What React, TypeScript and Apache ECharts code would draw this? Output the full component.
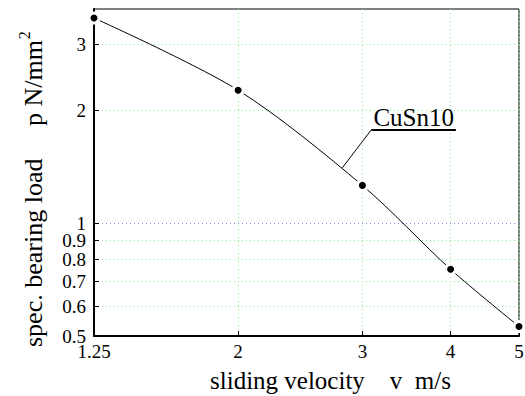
import React, { useEffect, useRef } from "react";
import * as echarts from "echarts";

const velocity = [1.25, 2, 3, 4, 5];
const load = [3.52, 2.26, 1.26, 0.753, 0.53];
const xTicks = [1.25, 2, 3, 4, 5];
const yTicks = [0.5, 0.6, 0.7, 0.8, 0.9, 1, 2, 3];
const xRange = [1.25, 5];
const yRange = [0.5, 3.72];
const xTitle = "sliding velocity    v  m/s";
const yTitle = "spec. bearing load     p N/mm";
const yTitleSup = "2";
const seriesLabel = "CuSn10";
const leaderStart = [2.81, 1.404];
const leaderCorner = [3.09, 1.774];
const underlineEnd = [4.07, 1.774];

const FAMILY = "'Liberation Serif', 'Times New Roman', Times, serif";
const font = (size: number) => `${size}px ${FAMILY}`;

export default function App() {
  const ref = useRef<HTMLDivElement>(null);
  useEffect(() => {
    document.body.style.margin = "0";
    if (!ref.current) return;
    const chart = echarts.init(ref.current, null, { renderer: "svg" });
    const green = "#88ee88";
    const blue = "#8888ee";
    chart.setOption({
      animation: false,
      grid: { left: 94, right: 6, top: 9, bottom: 60, show: true, borderColor: "#000", borderWidth: 1 },
      xAxis: {
        type: "log",
        min: xRange[0],
        max: xRange[1],
        axisLine: { show: true, lineStyle: { color: "#000", width: 2 } },
        axisTick: { show: true, inside: true, length: 5, customValues: xTicks, lineStyle: { color: "#000" } },
        axisLabel: { show: false, customValues: xTicks },
        splitLine: { show: true, lineStyle: { color: green, type: [1, 3], width: 1 } },
      },
      yAxis: {
        type: "log",
        min: yRange[0],
        max: yRange[1],
        axisLine: { show: true, lineStyle: { color: "#000", width: 2 } },
        axisTick: { show: true, inside: true, length: 5, customValues: yTicks, lineStyle: { color: "#000" } },
        axisLabel: { show: false, customValues: yTicks },
        splitLine: {
          show: true,
          lineStyle: { color: [green, green, green, green, green, blue, green, green], type: [1, 3], width: 1 },
        },
      },
      series: [
        {
          type: "line",
          data: velocity.map((v, i) => [v, load[i]]),
          smooth: 0.3,
          clip: false,
          symbol: "circle",
          symbolSize: 10,
          lineStyle: { color: "#000", width: 1 },
          itemStyle: { color: "#000", borderColor: "#fff", borderWidth: 3 },
          markLine: {
            silent: true,
            symbol: "none",
            lineStyle: { color: "#000", type: "solid", width: 1 },
            label: { show: false },
            data: [
              [{ coord: leaderStart }, { coord: leaderCorner }],
              [{ coord: leaderCorner, lineStyle: { width: 2 } }, { coord: underlineEnd }],
            ],
          },
        },
      ],
    });

    const P = (x: number, y: number) => chart.convertToPixel({ gridIndex: 0 }, [x, y]) as number[];
    const txt = (text: string, x: number, y: number, size: number, align: string) => ({
      type: "text",
      x,
      y,
      silent: true,
      style: { text, font: font(size), fill: "#000", align, verticalAlign: "middle" },
    });

    const g: any[] = [];
    xTicks.forEach((v) => {
      const p = P(v, yRange[0]);
      g.push(txt(String(v), p[0], p[1] + 15.5, 19, "center"));
    });
    yTicks.forEach((v) => {
      const p = P(xRange[0], v);
      g.push(txt(String(v), p[0] - 8, p[1], 19, "right"));
    });
    const bl = P(xRange[0], yRange[0]);
    const tr = P(xRange[1], yRange[1]);
    g.push(txt(xTitle, (bl[0] + tr[0]) / 2 + 24, bl[1] + 44, 25, "center"));

    const mainW = new echarts.graphic.Text({ style: { text: yTitle, font: font(26) } }).getBoundingRect().width;
    g.push({
      type: "group",
      x: bl[0] - 61,
      y: bl[1] + 11,
      rotation: Math.PI / 2,
      silent: true,
      children: [txt(yTitle, 0, 0, 26, "left"), txt(yTitleSup, mainW + 1, -9, 16, "left")],
    });

    const c = P(leaderCorner[0], leaderCorner[1]);
    const e = P(underlineEnd[0], underlineEnd[1]);
    g.push(txt(seriesLabel, (c[0] + e[0]) / 2, c[1] - 12, 25, "center"));

    chart.setOption({ graphic: g });
    return () => chart.dispose();
  }, []);
  return <div ref={ref} style={{ width: 525, height: 396 }} />;
}
